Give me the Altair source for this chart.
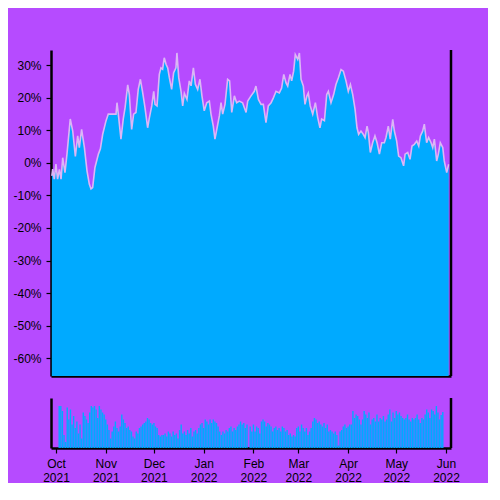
import altair as alt
import pandas as pd

START = "2021-10-01"

# cumulative return (%), with day offsets from 1 Oct 2021
price_days = [0.5, 1.0, 2.0, 3.0, 4.0, 5.1, 6.1, 7.1, 8.5, 9.7, 11.7, 13.2, 14.8, 16.2, 17.2, 18.6,
              20.3, 21.9, 23.3, 24.3, 25.3, 26.7, 28.8, 30.0, 31.4, 33.4, 34.8, 36.5, 39.5, 40.1,
              40.9, 42.5, 43.9, 45.0, 46.6, 47.6, 49.0, 50.2, 51.6, 53.0, 54.3, 55.7, 57.1, 58.7,
              59.7, 61.2, 62.4, 63.2, 64.4, 65.8, 66.8, 67.8, 68.8, 69.9, 70.9, 71.9, 73.3, 74.5,
              75.9, 76.5, 77.6, 79.0, 80.0, 81.0, 82.6, 84.0, 85.1, 86.5, 87.7, 89.1, 90.5, 91.7,
              93.1, 94.6, 96.2, 97.2, 98.6, 99.6, 100.9, 102.3, 103.3, 104.3, 105.7, 107.3, 108.5,
              109.8, 111.4, 112.8, 114.4, 116.4, 118.5, 119.5, 121.5,
              123.5, 124.5, 126.0, 127.6, 129.0, 130.6, 132.0, 133.7, 135.1, 136.7, 138.7, 140.1,
              141.4, 142.8, 143.8, 145.2, 146.2, 147.4, 148.4, 149.9, 150.9, 151.9, 153.3, 154.3,
              155.5, 156.3, 157.5, 159.0, 160.6, 162.0, 163.4, 164.4, 166.1, 167.5, 168.5, 170.1,
              171.7, 173.1, 174.6, 176.2, 177.6, 179.2, 180.6, 181.9, 183.3, 184.7, 185.9, 186.9,
              188.3, 189.7, 190.8, 192.0, 192.8, 194.0, 195.4, 196.8, 198.1, 199.5, 200.9, 202.5,
              203.5, 204.9, 206.1, 207.6, 208.6, 210.0, 211.2, 212.6, 214.2, 215.1, 216.7, 218.1,
              219.3, 220.7, 222.2, 223.4, 224.4, 225.8, 226.8, 228.2, 229.4, 230.9, 231.9, 232.9,
              234.3, 235.3, 236.5, 238.0, 238.9, 240.4, 241.6]
price_pct = [-4.0, -1.9, -5, -0.4, -5, -2, -5, 1.6, -3, 2.7, 13.5, 9.8, 2, 8.3, 4.7, 10.3,
             4.7, -2.5, -6.6, -8, -7.6, -1.4, 2.7, 4.3, 8.8, 12.9, 15, 15, 15, 18.5,
             15, 7.3, 13.5, 17, 24, 21, 10.3, 15, 15.5, 22.6, 25.7, 21.6, 17, 10.8,
             13.7, 17.5, 22, 18, 17.5, 27.2, 29.2, 28.8, 32.3, 30.3, 29.2, 26.2, 22.6, 27.7,
             29.2, 33.8, 26.2, 22, 17.5, 21.4, 19.5, 25.2, 23.7, 29.2, 24.2, 22.6, 25.7, 20.6,
             16, 18.5, 19, 15, 11.3, 7.3, 10.8, 14.5, 18.5, 15, 18, 25.7, 25.2,
             15.5, 20.6, 18.5, 19, 18.5, 15.5, 19, 20.6,
             22, 23.6, 19.5, 18, 18, 12.4, 17.5, 18.5, 20, 22, 21.5, 23,
             27.2, 24.6, 23.6, 27.2, 25.2, 28.2, 33.3, 31.8, 33.8, 25.7, 23.6, 18,
             20.6, 21.5, 17.5, 15, 18.5, 14, 10.8, 13.5, 13, 21, 22, 18.5,
             21, 24.1, 26.2, 28.7, 28.2, 25.2, 22, 24.1, 21, 16.5, 10.8, 8.8,
             9.8, 8.8, 7.8, 11.3, 9.3, 3.2, 6.2, 8.3, 6.2, 2.7, 6.2, 6.2,
             7.8, 11.3, 7.3, 13.4, 9.8, 6.7, 2.1, 1.6, -0.9, 2.7, 3.2, 1.1,
             5.2, 5.7, 6.7, 5.2, 8.3, 9.8, 11.9, 6.2, 7.8, 6.2, 4.7, 7.3,
             0.6, 2.7, 6.2, 4.7, 0.6, -3, -0.4]

# daily volume (relative, 100 = top of the lower panel)
vol_left = [84, 84, 74, 26, 12, 81, 57, 77, 47, 64, 40, 53, 29, 47, 19, 71, 64, 57, 50, 71,
            84, 81, 84, 77, 60, 84, 77, 71, 67, 57, 47, 36, 19, 33, 43, 53, 40, 33, 43, 67,
            57, 50, 40, 43, 36, 33, 23, 19, 33, 29, 40, 43, 47, 50, 53, 60, 57, 50, 47, 50,
            43, 40, 26, 23, 26, 26, 29, 23, 33, 29, 23, 33, 26, 29, 19, 36, 47, 29, 33, 26,
            36, 29, 40, 23, 33, 36, 29, 40, 47, 50, 40, 57, 53, 47, 57, 50, 57, 53, 50, 43,
            33, 26, 33, 29, 36, 33, 40, 43, 33, 40, 36, 43, 47, 53, 47, 50, 40, 47]
vol_right = [43, 33, 47, 33, 43, 40, 29, 53, 57, 53, 43, 50, 47, 43, 33, 40, 43, 36, 40, 33,
             43, 40, 33, 36, 26, 29, 23, 26, 23, 40, 43, 33, 47, 40, 33, 40, 26, 33, 40, 53,
             60, 57, 50, 53, 47, 43, 50, 40, 47, 33, 36, 33, 29, 33, 26, 5, 33, 36, 43, 47,
             40, 43, 47, 47, 74, 60, 67, 64, 57, 47, 57, 74, 67, 60, 71, 47, 57, 60, 53, 67,
             53, 60, 57, 64, 53, 57, 67, 77, 53, 71, 60, 74, 67, 71, 64, 60, 57, 60, 67, 57,
             53, 60, 57, 60, 67, 57, 50, 60, 57, 67, 77, 71, 60, 77, 74, 67, 84, 71, 57, 66, 72]

month_ticks = [(2021, 10), (2021, 11), (2021, 12), (2022, 1), (2022, 2), (2022, 3),
               (2022, 4), (2022, 5), (2022, 6)]
y_ticks = [-0.6, -0.5, -0.4, -0.3, -0.2, -0.1, 0.0, 0.1, 0.2, 0.3]
Y_MIN, Y_MAX = -0.655, 0.347


def to_dates(days):
    base = pd.Timestamp(START)
    return [(base + pd.Timedelta(days=float(d))).strftime("%Y-%m-%dT%H:%M:%SZ") for d in days]


price_df = pd.DataFrame({"date": to_dates(price_days), "ret": [v / 100 for v in price_pct]})
vol = vol_left + vol_right
vol_days = list(range(2, 2 + len(vol_left))) + list(range(121, 121 + len(vol_right)))
vol_df = pd.DataFrame({"date": to_dates(vol_days), "vol": vol})
one = pd.DataFrame({"a": [0]})

W, H_TOP, H_BOT = 400, 326, 50
BG = "#b64bff"
BLUE = "#00aaff"
LINE = "#dcb6f6"

x_dom = [alt.DateTime(year=2021, month=10, date=1, utc=True),
         alt.DateTime(year=2022, month=6, date=1, utc=True)]
x_vals = [alt.DateTime(year=y, month=m, date=1, utc=True) for y, m in month_ticks]
x_scale = alt.Scale(type="utc", domain=x_dom)

x_top = alt.X("date:T", scale=x_scale,
              axis=alt.Axis(title=None, labels=False, ticks=False, grid=False))
y_top = alt.Y("ret:Q", scale=alt.Scale(domain=[Y_MIN, Y_MAX], nice=False, zero=False),
              axis=alt.Axis(title=None, values=y_ticks, labelExpr="round(datum.value*100) + '%'",
                            grid=False, minExtent=38, maxExtent=38))

area = alt.Chart(price_df).mark_area(color=BLUE).encode(
    x=x_top, y=y_top, y2=alt.Y2(datum=Y_MIN))
line = alt.Chart(price_df).mark_line(color=LINE, strokeWidth=1.6).encode(x=x_top, y=y_top)
rborder_top = alt.Chart(one).mark_rule(color="black", strokeWidth=2.5).encode(
    x=alt.value(W), y=alt.value(0), y2=alt.value(H_TOP))
top = alt.layer(area, line, rborder_top).properties(width=W, height=H_TOP)

x_bot = alt.X("date:T", scale=x_scale,
              axis=alt.Axis(title=None, values=x_vals, grid=False,
                            labelExpr="[utcFormat(datum.value, '%b'), utcFormat(datum.value, '%Y')]"))
y_bot = alt.Y("vol:Q", scale=alt.Scale(domain=[0, 100], nice=False),
              axis=alt.Axis(title=None, labels=False, ticks=False, grid=False,
                            minExtent=38, maxExtent=38))
bars = alt.Chart(vol_df).mark_bar(color=BLUE, size=1.4).encode(x=x_bot, y=y_bot)
rborder_bot = alt.Chart(one).mark_rule(color="black", strokeWidth=2.5).encode(
    x=alt.value(W), y=alt.value(0), y2=alt.value(H_BOT))
bottom = alt.layer(bars, rborder_bot).properties(width=W, height=H_BOT)

chart = alt.vconcat(top, bottom, spacing=18).properties(
    background=BG,
    padding={"left": 4, "top": 40, "right": 28, "bottom": 0},
).configure_view(strokeWidth=0).configure_axis(
    domainColor="black", domainWidth=2.5, tickColor="black", tickWidth=1.2, tickSize=5,
    labelPadding=5, labelFont="Liberation Sans", labelFontSize=12, labelColor="black",
    labelFontWeight="normal",
)

chart.save("out.html", embed_options={"renderer": "svg", "actions": False})
